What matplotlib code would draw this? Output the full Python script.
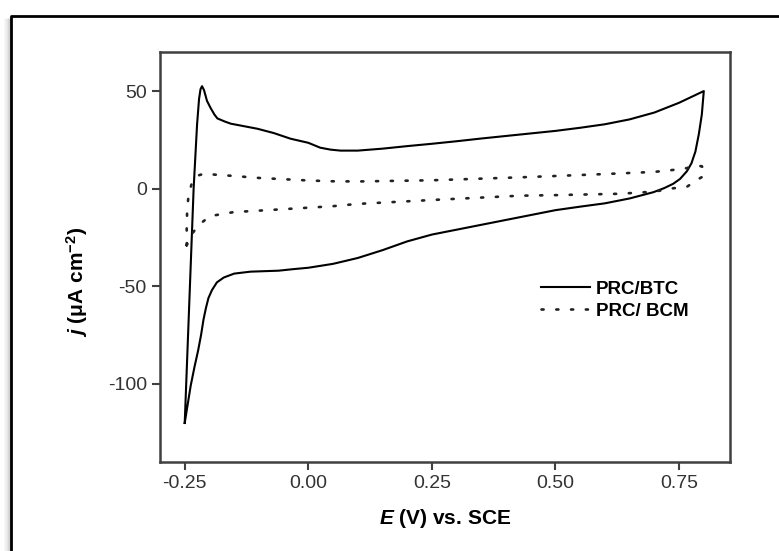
import matplotlib
matplotlib.use('Agg')
import matplotlib.pyplot as plt
from matplotlib.lines import Line2D

plt.rcParams['font.family'] = ['Liberation Sans', 'DejaVu Sans']
plt.rcParams['axes.unicode_minus'] = False
plt.rcParams['mathtext.fontset'] = 'custom'
plt.rcParams['mathtext.rm'] = 'Liberation Sans:bold'
plt.rcParams['mathtext.it'] = 'Liberation Sans:bold:italic'
plt.rcParams['mathtext.bf'] = 'Liberation Sans:bold'

# PRC/BTC cyclic voltammogram (E in V vs SCE, j in uA cm^-2)
btc_E = [-0.250, -0.241, -0.232, -0.225, -0.221, -0.218, -0.215, -0.211, -0.205,
         -0.198, -0.190, -0.184, -0.170, -0.157, -0.130, -0.103, -0.070, -0.036,
         0.000, 0.024, 0.045, 0.065, 0.100, 0.150, 0.200, 0.250, 0.300, 0.350,
         0.400, 0.450, 0.500, 0.550, 0.600, 0.650, 0.700, 0.750, 0.800,
         0.796, 0.790, 0.783, 0.775, 0.766, 0.752, 0.738, 0.720, 0.698, 0.650,
         0.600, 0.550, 0.500, 0.450, 0.400, 0.350, 0.300, 0.250, 0.200, 0.150,
         0.100, 0.050, 0.000, -0.030, -0.060, -0.117, -0.150, -0.171, -0.185,
         -0.195, -0.202, -0.207, -0.212, -0.217, -0.223, -0.230, -0.238, -0.250]
btc_j = [-120, -60, 0, 33, 46, 51, 52.5, 50.5, 45,
         41.5, 38, 36, 34.5, 33.3, 32, 30.7, 28.5, 25.6,
         23.5, 21, 20, 19.5, 19.5, 20.5, 21.8, 23, 24.3, 25.7,
         27, 28.3, 29.6, 31.2, 33, 35.5, 39, 44, 50,
         38, 28, 19, 13, 9, 5, 2.5, 0.3, -1.8, -5,
         -7.5, -9.2, -11, -13.5, -16, -18.5, -21, -23.5, -27, -31.5,
         -35.5, -38.5, -40.5, -41.2, -42, -42.5, -43.5, -45.5, -48,
         -52, -56, -61, -67, -75, -83, -91, -101, -120]

# PRC/BCM cyclic voltammogram
bcm_E = [-0.246, -0.246, -0.245, -0.242, -0.236, -0.226, -0.212, -0.150, -0.100,
         0.000, 0.048, 0.100, 0.250, 0.427, 0.500, 0.600, 0.700, 0.738, 0.765,
         0.783, 0.796, 0.802, 0.800, 0.787, 0.766, 0.738, 0.700, 0.630, 0.500,
         0.427, 0.250, 0.100, 0.048, -0.070, -0.151, -0.198, -0.218, -0.232,
         -0.246]
bcm_j = [-29, -20, -10, -3, 2.5, 6.5, 7.6, 6.5, 5.5,
         4.2, 3.8, 3.7, 4.3, 5.8, 6.5, 7.5, 8.6, 9.6, 10.5,
         11.8, 11.5, 9.2, 6.5, 4.6, 1, 0.2, -1.5, -2.6, -3.3,
         -3.6, -5.8, -7.8, -9, -10.8, -12, -14, -17.8, -22,
         -29]

fig = plt.figure(figsize=(7.79, 5.51), dpi=100)
ax = fig.add_axes([0.2054, 0.1615, 0.7317, 0.7441])

ax.plot(btc_E, btc_j, color='black', lw=1.5, label='PRC/BTC')
ax.plot(bcm_E, bcm_j, color='#222222', lw=1.9, linestyle=(0, (0.8, 4.8)),
        dash_capstyle='round', label='PRC/ BCM')

ax.set_xlim(-0.30, 0.853)
ax.set_ylim(-140, 70)
ax.set_xticks([-0.25, 0.00, 0.25, 0.50, 0.75])
ax.set_xticklabels(['-0.25', '0.00', '0.25', '0.50', '0.75'])
ax.set_yticks([-100, -50, 0, 50])

for s in ax.spines.values():
    s.set_color('#404040')
    s.set_linewidth(1.8)
ax.tick_params(axis='both', direction='out', length=5.5, width=1.5,
               color='#404040', labelsize=14, labelcolor='#333333', pad=4)

ax.set_xlabel(r'$E$ (V) vs. SCE', fontsize=15, fontweight='bold', labelpad=11)
ax.set_ylabel(r'$j$ (μA cm$^{-2}$)', fontsize=15, fontweight='bold')
ax.yaxis.set_label_coords(-0.123, 0.44)

leg = ax.legend(loc='upper left', bbox_to_anchor=(0.655, 0.46), frameon=False,
                prop={'weight': 'bold', 'size': 13.5}, handlelength=2.6,
                handletextpad=0.35, labelspacing=0.25, borderaxespad=0)

# outer frame around the figure (cut at right and bottom), with a soft shadow
W, H = 779, 551
for k, a in zip(range(1, 8), [0.22, 0.18, 0.14, 0.10, 0.07, 0.05, 0.03]):
    fig.add_artist(Line2D([(10.5 - k) / W] * 2, [0, 1 - 18 / H],
                          transform=fig.transFigure, color='black', lw=0.75,
                          alpha=a, solid_capstyle='butt'))
fig.add_artist(Line2D([10.5 / W, 10.5 / W, 1.0], [0, 1 - 15.5 / H, 1 - 15.5 / H],
                      transform=fig.transFigure, color='black', lw=2.0))

fig.savefig('out.png', dpi=100)
